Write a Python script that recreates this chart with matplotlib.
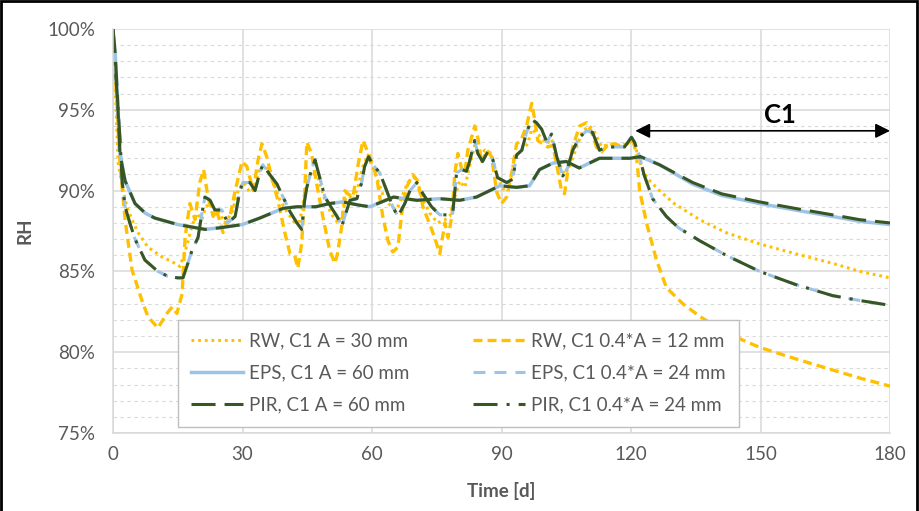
import matplotlib
matplotlib.use("Agg")
import matplotlib.pyplot as plt
from matplotlib.patches import Rectangle
from matplotlib.ticker import MultipleLocator, FuncFormatter

plt.rcParams['font.family'] = ['Lato', 'DejaVu Sans']
plt.rcParams['lines.scale_dashes'] = False

# (day, RH %)
rw_a = [(0, 100), (1.2, 91.7), (2.3, 90.1), (3.2, 89.0), (4.4, 88.2), (5.8, 87.4), (8.1, 86.5),
        (11.3, 85.9), (13.7, 85.6), (15.5, 85.3), (16.7, 86.2), (18.3, 87.8), (19.4, 88.6),
        (20.6, 88.2), (21.5, 89.0), (22.5, 89.2), (23.5, 88.4), (24.3, 88.8), (25.9, 88.0),
        (27.5, 88.6), (29, 90.0), (30.2, 90.5), (31.7, 89.9), (32.9, 90.2), (34, 91.4),
        (35.2, 91.6), (36.8, 90.7), (38.7, 89.4), (40.5, 88.6), (42.1, 88.0), (43.3, 88.1),
        (44.4, 89.8), (45.1, 90.8), (46.3, 91.1), (47.5, 90.8), (49.1, 89.4), (50.7, 88.5),
        (52.1, 88.0), (53.2, 88.6), (54.2, 89.9), (55.6, 89.4), (56.7, 90.2), (57.9, 91.5),
        (59, 92.2), (61.1, 90.8), (63, 89.4), (64.6, 89.0), (65.7, 88.8), (66.9, 89.6),
        (68.3, 90.5), (69.9, 90.8), (71.5, 89.6), (73.4, 88.6), (75.2, 88.0), (76.9, 88.2),
        (78, 88.4), (79.2, 89.6), (80.3, 90.6), (81.5, 90.2), (82.6, 91.5), (83.8, 92.8),
        (85, 92.1), (86.1, 92.5), (87.7, 92.3), (88.9, 90.9), (90.3, 90.1), (91.9, 90.3),
        (93, 92.1), (94.7, 92.5), (96.1, 92.9), (97, 93.8), (98.8, 93.4), (100.5, 92.9),
        (101.6, 93.2), (103, 91.9), (104.6, 91.0), (105.8, 91.5), (107.4, 92.7), (108.8, 93.7),
        (110.4, 94.0), (111.6, 93.6), (113.2, 92.7), (115, 92.9), (117.4, 92.8), (119.2, 92.9),
        (120.4, 93.1), (121.5, 92.3), (122.5, 91.4), (124, 90.7), (126.6, 90.0), (130, 89.2),
        (135.9, 88.2), (142, 87.4), (149.8, 86.7), (158, 86.1), (166.7, 85.5), (173, 85.0),
        (180, 84.6)]

rw_04 = [(0, 100), (1.6, 91.7), (2.8, 88.2), (4.4, 85.1), (6.7, 83.2), (8.1, 82.2), (10.4, 81.5),
         (12.5, 82.4), (13.7, 82.8), (14.8, 82.4), (16, 83.6), (16.7, 87.1), (17.8, 89.2),
         (19, 88.2), (20.1, 90.5), (21, 91.3), (22, 89.6), (23.2, 88.4), (24, 88.8), (25.5, 87.4),
         (27.1, 88.4), (28.3, 90.0), (29.9, 91.8), (31, 91.5), (32.5, 90.0), (33.6, 91.9),
         (34.5, 92.9), (35.6, 92.1), (36.8, 90.8), (38.2, 89.4), (39.8, 87.4), (41, 86.1),
         (42.1, 86.0), (42.8, 85.2), (43.7, 86.7), (44.4, 89.8), (44.9, 93.0), (46, 92.3),
         (47.2, 90.4), (48.6, 88.4), (50.2, 86.3), (51.4, 85.5), (52, 86.1), (53, 87.8),
         (53.7, 90.0), (54.4, 89.8), (55.6, 89.6), (56.7, 91.5), (57.9, 93.1), (59.5, 92.1),
         (61.1, 90.8), (62.5, 88.4), (63.7, 86.9), (64.8, 86.2), (66, 86.5), (66.9, 88.6),
         (68, 90.2), (69.4, 91.0), (70.6, 90.6), (71.8, 89.0), (73.4, 87.9), (74.5, 87.1),
         (75.7, 86.1), (76.9, 88.0), (77.6, 87.1), (78.5, 88.4), (79.2, 91.1), (79.9, 92.3),
         (80.8, 91.3), (81.5, 91.1), (82.2, 92.5), (83.3, 93.5), (83.8, 94.0), (84.5, 93.3),
         (85.4, 91.7), (86.6, 92.5), (87.7, 92.1), (88.9, 89.9), (90, 89.2), (91.2, 89.6),
         (92.4, 91.1), (93.5, 92.9), (94.5, 93.1), (95.8, 94.0), (97, 95.4), (97.7, 94.4),
         (98.4, 93.1), (99.5, 92.9), (100.7, 92.7), (101.9, 92.8), (103, 91.3), (103.9, 90.0),
         (104.6, 89.8), (105.3, 91.1), (106.5, 92.7), (108.1, 94.0), (109.7, 94.2), (110.9, 93.6),
         (112, 92.7), (113.2, 92.4), (114.6, 92.8), (116.2, 92.9), (117.8, 92.7), (119.2, 92.9),
         (120.4, 93.3), (121.3, 92.1), (122, 90.0), (123.6, 88.0), (125.9, 85.7), (128.2, 84.0),
         (132, 83.0), (136, 82.2), (142, 81.2), (149.8, 80.3), (158, 79.6), (166.7, 78.9),
         (173, 78.4), (180, 77.9)]

pir_a = [(0, 100), (0.5, 98.5), (1, 96.0), (1.6, 92.3), (2.8, 90.6), (5.1, 89.2), (7.5, 88.6),
         (9.7, 88.3), (15, 87.9), (21.3, 87.6), (24.8, 87.7), (30, 87.9), (34, 88.3), (39.4, 88.9),
         (42.6, 89.0), (47, 89.0), (50.2, 89.2), (53.2, 89.3), (57, 89.1), (59.5, 89.0),
         (65, 89.6), (70.4, 89.4), (75.7, 89.5), (80.3, 89.4), (84.2, 89.6), (89.6, 90.3),
         (93.5, 90.2), (96.5, 90.3), (98.8, 91.3), (101.9, 91.7), (105, 91.8), (108, 91.4),
         (112.7, 92.0), (119.7, 92.0), (122.2, 92.1), (126.6, 91.6), (134.3, 90.5), (141, 89.8),
         (149.8, 89.3), (158, 88.9), (166.7, 88.5), (173, 88.2), (180, 88.0)]

eps_a = [(0, 100), (0.5, 98.5), (1, 96.0), (1.6, 92.3), (2.8, 90.6), (5.1, 89.2), (7.5, 88.6),
         (9.7, 88.3), (15, 87.9), (21.3, 87.6), (24.8, 87.7), (30, 87.9), (34, 88.3), (39.4, 88.9),
         (42.6, 89.0), (47, 89.0), (50.2, 89.2), (53.2, 89.3), (57, 89.1), (59.5, 89.0),
         (65, 89.6), (70.4, 89.4), (75.7, 89.5), (80.3, 89.4), (84.2, 89.6), (89.6, 90.3),
         (93.5, 90.2), (96.5, 90.3), (98.8, 91.3), (101.9, 91.7), (105, 91.8), (108, 91.4),
         (112.7, 92.0), (119.7, 92.0), (122.2, 92.1), (126.6, 91.6), (134.3, 90.4), (141, 89.7),
         (149.8, 89.2), (158, 88.8), (166.7, 88.4), (173, 88.1), (180, 87.9)]

pir_04 = [(0, 100), (0.8, 96.5), (1.6, 93.3), (2.1, 90.6), (2.8, 89.0), (3.9, 88.0), (5.1, 87.0),
          (7.4, 85.7), (10.4, 85.0), (12.7, 84.7), (15, 84.6), (16.2, 84.6), (17.1, 85.3),
          (18.3, 86.3), (19.7, 87.1), (20.6, 88.6), (21.3, 89.6), (22.5, 89.4), (23.6, 88.8),
          (25.2, 88.8), (26.6, 88.0), (28.3, 88.4), (29.4, 90.0), (30.1, 90.5), (31.7, 90.5),
          (32.9, 90.0), (34, 91.1), (34.7, 91.6), (36.3, 91.0), (38, 90.4), (39.4, 89.6),
          (41, 88.7), (42.6, 88.0), (43.7, 87.6), (44.4, 89.4), (44.9, 90.2), (46, 91.3),
          (46.8, 91.9), (47.5, 91.2), (49.1, 89.6), (50.7, 88.9), (51.9, 88.4), (53, 87.8),
          (53.7, 88.4), (54.9, 89.4), (56.5, 89.5), (57.6, 90.5), (58.3, 91.5), (59.2, 92.1),
          (60.2, 91.6), (61.8, 91.1), (63.4, 90.0), (64.8, 89.0), (66, 88.4), (67.6, 89.2),
          (68.8, 90.0), (70.4, 90.5), (71.8, 89.8), (73.8, 89.0), (75.7, 88.5), (77.3, 88.5),
          (78.7, 88.6), (79.6, 91.1), (80.8, 91.3), (81.9, 91.2), (82.6, 91.8), (83.8, 93.1),
          (84.5, 92.3), (85.6, 91.8), (86.8, 92.4), (88, 91.9), (89.1, 90.8), (91.2, 90.5),
          (92.6, 90.7), (93.5, 92.2), (94.7, 92.5), (95.8, 93.6), (97, 94.4), (98.1, 94.2),
          (99.3, 93.8), (100.5, 93.0), (101.6, 93.5), (102.8, 92.1), (104.2, 90.9), (105.3, 91.4),
          (106.5, 92.5), (108.1, 93.3), (109.7, 93.7), (111.1, 93.6), (112.7, 92.5), (114.6, 92.7),
          (116.7, 92.7), (118.5, 92.7), (120.1, 93.3), (120.8, 93.0), (122, 92.1), (123, 91.0),
          (125, 89.5), (128.2, 88.4), (131, 87.7), (135.9, 86.9), (142, 86.0), (149.8, 85.0),
          (158, 84.2), (166.7, 83.5), (173, 83.2), (180, 82.9)]

eps_04 = list(pir_04)

labels = ['RW, C1 A = 30 mm', 'RW, C1 0.4*A = 12 mm',
          'EPS, C1 A = 60 mm', 'EPS, C1 0.4*A = 24 mm',
          'PIR, C1 A = 60 mm', 'PIR, C1 0.4*A = 24 mm']

orange = '#FFC000'
blue = '#9DC3E6'
green = '#375623'
grey = '#595959'
grid_c = '#D9D9D9'


def xy(series):
    return [p[0] for p in series], [p[1] for p in series]


fig = plt.figure(figsize=(9.19, 5.11), dpi=100)
ax = fig.add_axes([113 / 919, 1 - 433 / 511, 777 / 919, 404 / 511])

lw = 2.2
lines = {}
x, y = xy(rw_a)
lines['rw_a'], = ax.plot(x, y, color=orange, lw=lw, dashes=(2.0, 2.8), label=labels[0])
x, y = xy(rw_04)
lines['rw_04'], = ax.plot(x, y, color=orange, lw=lw + 0.2, dashes=(6.5, 3.6), label=labels[1])
x, y = xy(eps_a)
lines['eps_a'], = ax.plot(x, y, color=blue, lw=lw + 0.3, label=labels[2])
x, y = xy(eps_04)
lines['eps_04'], = ax.plot(x, y, color=blue, lw=lw, dashes=(8.6, 6.5), label=labels[3])
x, y = xy(pir_a)
lines['pir_a'], = ax.plot(x, y, color=green, lw=lw, dashes=(17.3, 6.5), label=labels[4])
x, y = xy(pir_04)
lines['pir_04'], = ax.plot(x, y, color=green, lw=lw, dashes=(17.3, 6.5, 2.2, 6.5), label=labels[5])

ax.set_xlim(0, 180)
ax.set_ylim(75, 100)
ax.xaxis.set_major_locator(MultipleLocator(30))
ax.yaxis.set_major_locator(MultipleLocator(5))
ax.yaxis.set_minor_locator(MultipleLocator(1))
ax.yaxis.set_major_formatter(FuncFormatter(lambda v, p: '%d%%' % v))

ax.grid(which='major', color=grid_c, lw=1.1)
ax.grid(which='minor', axis='y', color=grid_c, lw=0.8, dashes=(2.5, 2.5))
ax.set_axisbelow(True)
for s in ['top', 'right']:
    ax.spines[s].set_visible(False)
for s in ['left', 'bottom']:
    ax.spines[s].set_color(grid_c)
    ax.spines[s].set_linewidth(1.1)

ax.tick_params(which='both', length=0, labelsize=13.5, colors=grey)
ax.tick_params(axis='y', pad=13)
ax.tick_params(axis='x', pad=9)

ax.set_xlabel('Time [d]', fontsize=13.5, fontweight='bold', color=grey, labelpad=14)
ax.set_ylabel('RH', fontsize=13.5, fontweight='bold', color=grey, labelpad=10)

# C1 period arrow
ax.annotate('', xy=(121, 93.7), xytext=(180, 93.7),
            arrowprops=dict(arrowstyle='<|-|>', color='black', lw=1.2,
                            mutation_scale=22, shrinkA=0, shrinkB=0),
            annotation_clip=False)
ax.text(154.4, 94.7, 'C1', fontsize=18.5, fontweight='bold', ha='center', va='center')

handles = [lines['rw_a'], lines['eps_a'], lines['pir_a'],
           lines['rw_04'], lines['eps_04'], lines['pir_04']]
leg = ax.legend(handles=handles, labels=[h.get_label() for h in handles],
                ncol=2, loc='lower left', bbox_to_anchor=(0.0837, 0.0149),
                borderaxespad=0, fontsize=13.5, frameon=True, fancybox=False,
                framealpha=1, edgecolor='#BFBFBF', handlelength=2.77,
                handletextpad=0.32, columnspacing=3.4, labelspacing=0.8,
                borderpad=0.7)
leg.get_frame().set_linewidth(1.0)
for t in leg.get_texts():
    t.set_color(grey)

fig.add_artist(Rectangle((1 / 919, -0.05), 916 / 919, 1.05 - 1 / 511,
                         transform=fig.transFigure, fill=False, lw=2, ec='black'))

fig.savefig('out.png', dpi=100)
